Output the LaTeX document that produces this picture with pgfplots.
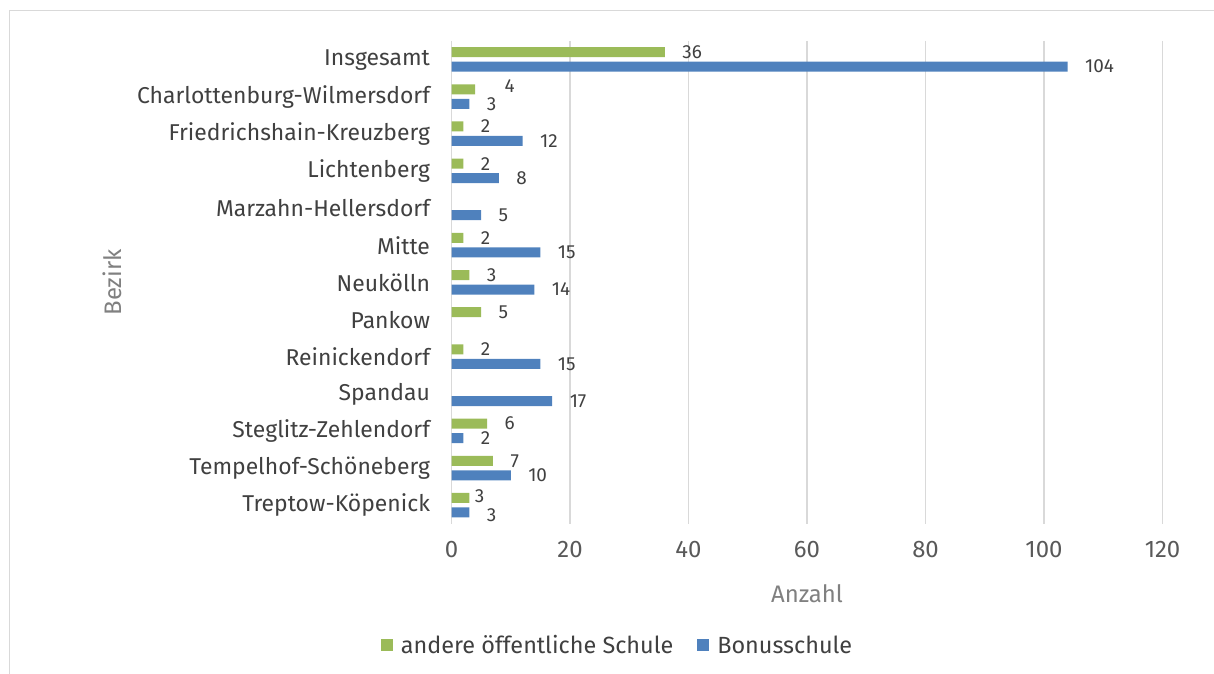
\documentclass[border=0pt]{standalone}
\usepackage{pgfplots}
\pgfplotsset{compat=1.18}
\usepackage{fontspec}
\setmainfont{Fira Sans}
\definecolor{cgreen}{HTML}{9BBB59}
\definecolor{cblue}{HTML}{4F81BD}
\definecolor{cgrid}{HTML}{D9D9D9}
\definecolor{ctext}{HTML}{404040}
\definecolor{ctick}{HTML}{595959}
\definecolor{ctitle}{HTML}{808080}
\pgfplotsset{sqlegend/.style={legend image code/.code={\fill[#1] (0bp,-6bp) rectangle (12bp,6bp);}}}
\begin{document}
\begin{tikzpicture}[x=1bp,y=1bp]
\path[use as bounding box] (0,0) rectangle (1214,674);
\draw[cgrid,line width=1.2bp] (9.5,0) -- (9.5,663.5) -- (1214,663.5);
\begin{axis}[
  at={(451.5bp,150bp)}, anchor=south west,
  scale only axis, width=711bp, height=483bp,
  xmin=0, xmax=120, ymin=-0.5, ymax=12.5, y dir=reverse,
  xtick={0,20,...,120},
  ytick={0,...,12},
  yticklabels={Insgesamt,Charlottenburg-Wilmersdorf,Friedrichshain-Kreuzberg,Lichtenberg,Marzahn-Hellersdorf,Mitte,Neukölln,Pankow,Reinickendorf,Spandau,Steglitz-Zehlendorf,Tempelhof-Schöneberg,Treptow-Köpenick},
  axis x line*=bottom, x axis line style={draw=none},
  axis y line*=left,
  y axis line style={cgrid,line width=1.2bp,-},
  xmajorgrids, major grid style={cgrid,line width=1.2bp},
  major tick length=0pt,
  x tick label style={font=\fontsize{24}{24}\selectfont, text=ctick, yshift=-14bp},
  y tick label style={font=\fontsize{23}{23}\selectfont, text=ctext, xshift=-18bp},
  /pgf/number format/assume math mode=true,
  xlabel={Anzahl}, ylabel={Bezirk},
  every axis x label/.style={at={(axis description cs:0.5,0)}, anchor=center, yshift=-70bp, font=\fontsize{24}{24}\selectfont, text=ctitle},
  every axis y label/.style={at={(axis description cs:-0.4775,0.5)}, anchor=center, rotate=90, font=\fontsize{24}{24}\selectfont, text=ctitle},
  xbar, bar width=10bp, bar shift=0pt,
  nodes near coords, 
  every node near coord/.style={anchor=west, font=\fontsize{19}{19}\selectfont, text=ctext, xshift=14bp},
  legend style={at={(axis description cs:0.2335,0)}, anchor=center, yshift=-121bp, draw=none, legend columns=2, font=\fontsize{23.5}{23.5}\selectfont, text=ctext, /tikz/every even column/.append style={column sep=22bp}, /tikz/every odd column/.append style={column sep=6bp}},
]
\addplot[fill=cgreen, draw=none, sqlegend=cgreen,
  coordinate style/.condition={\coordindex==1}{xshift=12bp, yshift=3bp},
  coordinate style/.condition={\coordindex==10}{xshift=-12bp, yshift=2bp, font=\fontsize{16}{16}\selectfont}] coordinates {
(36,-0.2) (4,0.8) (2,1.8) (2,2.8) (2,4.8) (3,5.8) (5,6.8) (2,7.8) (6,9.8) (7,10.8) (3,11.8)};
\addlegendentry{andere öffentliche Schule}
\addplot[fill=cblue, draw=none, sqlegend=cblue,
  coordinate style/.condition={\coordindex==11}{yshift=-3bp}] coordinates {
(104,0.19) (3,1.19) (12,2.19) (8,3.19) (5,4.19) (15,5.19) (14,6.19) (15,8.19) (17,9.19) (2,10.19) (10,11.19) (3,12.19)};
\addlegendentry{Bonusschule}
\end{axis}
\end{tikzpicture}
\end{document}
